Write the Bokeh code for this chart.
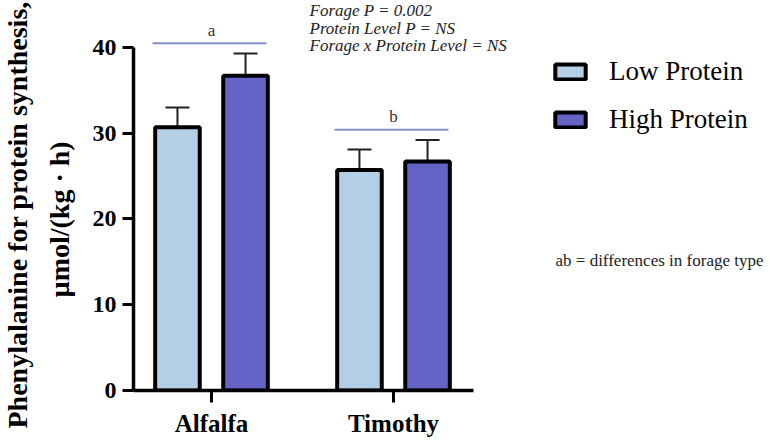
from bokeh.plotting import figure
from bokeh.models import (Range1d, Label, Legend, LegendItem, Whisker, Title,
                          TeeHead, ColumnDataSource, FixedTicker)
from bokeh.transform import dodge
from bokeh.core.properties import value
from bokeh.embed import file_html
from bokeh.resources import INLINE

# ---- data ----
forage = ["Alfalfa", "Timothy"]
low_protein = [30.7, 25.7]
high_protein = [36.7, 26.7]
low_sem = [2.3, 2.4]
high_sem = [2.6, 2.5]
letters = ["a", "b"]
y_ticks = [0, 10, 20, 30, 40]
stats_lines = ["Forage P = 0.002", "Protein Level P = NS", "Forage x Protein Level = NS"]
y_title = ["Phenylalanine for protein synthesis,", "\u00b5mol/(kg \u00b7 h)"]

LOW_COLOR = "#b3cfe6"
HIGH_COLOR = "#6563c6"
SERIF = "Liberation Serif"

pos = [i + 1 for i in range(len(forage))]
low_top = [v + s for v, s in zip(low_protein, low_sem)]
high_top = [v + s for v, s in zip(high_protein, high_sem)]
sig_y = [max(a, b) + 1.2 for a, b in zip(low_top, high_top)]
letter_y = [s + 1.5 for s in sig_y]

src = ColumnDataSource(dict(pos=pos, forage=forage, low=low_protein, high=high_protein,
                            low_top=low_top, high_top=high_top,
                            sig_y=sig_y, letter_y=letter_y, letters=letters))

X0, X1 = 0.5714, 4.0714
p = figure(x_range=Range1d(X0, X1), y_range=Range1d(0, 45.48), width=770, height=441,
           output_backend="svg", toolbar_location=None,
           min_border_left=133, min_border_right=0, min_border_top=0, min_border_bottom=51)
p.extra_x_ranges = {"px": Range1d(133, 770)}
p.extra_y_ranges = {"py": Range1d(390, 0)}
p.outline_line_color = None
p.xgrid.grid_line_color = None
p.ygrid.grid_line_color = None
p.background_fill_color = "white"
p.border_fill_color = "white"

OFF = 0.187
BW = 0.245

for off, base, topcol in [(-OFF, "low", "low_top"), (OFF, "high", "high_top")]:
    w = Whisker(base=dodge("pos", off), lower=base, upper=topcol,
                source=src, line_width=2, line_color="#222222",
                upper_head=TeeHead(size=24, line_width=2, line_color="#222222"),
                lower_head=None)
    p.add_layout(w)

r_low = p.vbar(x=dodge("pos", -OFF), top="low", width=BW, source=src,
               fill_color=LOW_COLOR, line_color="black", line_width=4)
r_high = p.vbar(x=dodge("pos", OFF), top="high", width=BW, source=src,
                fill_color=HIGH_COLOR, line_color="black", line_width=4)

p.segment(x0=dodge("pos", -0.324), x1=dodge("pos", 0.302),
          y0="sig_y", y1="sig_y", source=src, line_color="#8390c8", line_width=2)
p.text(x="pos", y="letter_y", text="letters", source=src, text_align="center",
       text_baseline="middle", text_font=value(SERIF), text_font_size="17px",
       text_color="#333333")

# axes
yax = p.yaxis[0]
yax.ticker = FixedTicker(ticks=y_ticks)
yax.bounds = (0, 40)
yax.minor_tick_line_color = None
yax.major_tick_in = 0
yax.major_tick_out = 11
yax.major_tick_line_width = 3
yax.axis_line_width = 3.5
yax.major_label_standoff = 6
yax.major_label_text_font = SERIF
yax.major_label_text_font_style = "bold"
yax.major_label_text_font_size = "24px"
yax.major_label_text_color = "black"

# two-line y title, outer line added last
for txt, so, off in [(y_title[1], 30, 93), (y_title[0], -13, -38)]:
    p.add_layout(Title(text=txt, align="left", offset=off, standoff=so,
                       text_font=SERIF, text_font_style="bold", text_font_size="28px",
                       text_color="black"), "left")

xax = p.xaxis[0]
xax.ticker = FixedTicker(ticks=pos)
xax.bounds = (X0, X0 + 340 / 182)
xax.major_label_overrides = {x: name for x, name in zip(pos, forage)}
xax.minor_tick_line_color = None
xax.major_tick_in = 0
xax.major_tick_out = 12
xax.major_tick_line_width = 3
xax.axis_line_width = 3.5
xax.major_label_standoff = 7
xax.major_label_text_font = SERIF
xax.major_label_text_font_style = "bold"
xax.major_label_text_font_size = "25px"
xax.major_label_text_color = "black"

# statistics text
for i, txt in enumerate(stats_lines):
    p.add_layout(Label(x=309, y=10 + 17.5 * i, x_range_name="px", y_range_name="py", text=txt,
                       text_align="left", text_baseline="middle", text_font=SERIF,
                       text_font_style="italic", text_font_size="17px", text_color="#222222"))

p.add_layout(Label(x=555, y=260, x_range_name="px", y_range_name="py",
                   text="ab = differences in forage type", text_align="left",
                   text_baseline="middle", text_font=SERIF, text_font_size="17px",
                   text_color="#222222"))

legend = Legend(items=[LegendItem(label="Low Protein", renderers=[r_low]),
                       LegendItem(label="High Protein", renderers=[r_high])],
                location=(418, 255), glyph_width=38, glyph_height=19, label_standoff=20,
                spacing=17, padding=0, margin=0, border_line_color=None,
                background_fill_alpha=0, label_text_font=SERIF,
                label_text_font_size="27px", label_text_color="black")
p.add_layout(legend)

open("out.html", "w").write(file_html(p, INLINE))
